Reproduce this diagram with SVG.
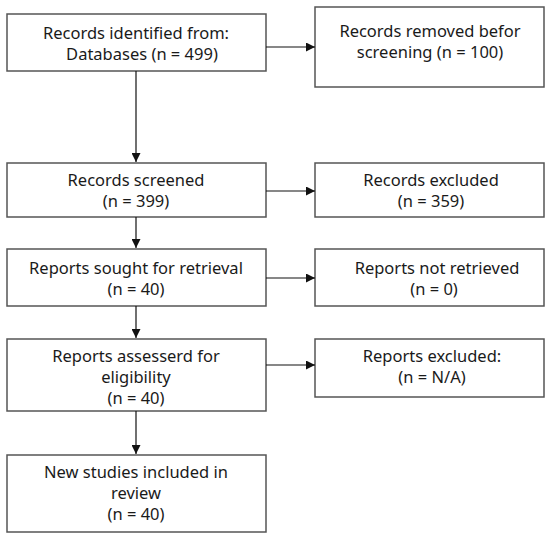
<svg xmlns="http://www.w3.org/2000/svg" width="550" height="540" viewBox="0 0 550 540">
<style>
.box{fill:#fff;stroke:#555;stroke-width:1.5}
.t{font-family:"Noto Sans","Liberation Sans",Arial,sans-serif;font-size:16.5px;fill:#1a1a1a;text-anchor:middle}
.c{stroke:#111;stroke-width:1.2;fill:none;marker-end:url(#ah)}
</style>
<defs>
<marker id="ah" viewBox="0 0 10 10" refX="10" refY="5" markerWidth="9" markerHeight="9" markerUnits="userSpaceOnUse" orient="auto">
<path d="M0,0 L10,5 L0,10 z" fill="#111"/>
</marker>
</defs>
<rect width="550" height="540" fill="#fff"/>
<g id="n1"><rect class="box" x="7" y="14" width="259" height="57"/>
<text class="t" x="136" y="39">Records identified from:</text>
<text class="t" x="142" y="60">Databases (n = 499)</text></g>
<g id="n2"><rect class="box" x="315" y="7" width="229" height="80"/>
<text class="t" x="430" y="37">Records removed befor</text>
<text class="t" x="430" y="58">screening (n = 100)</text></g>
<g id="n3"><rect class="box" x="7" y="163" width="259" height="54"/>
<text class="t" x="136" y="186">Records screened</text>
<text class="t" x="136" y="207">(n = 399)</text></g>
<g id="n4"><rect class="box" x="315" y="163" width="229" height="54"/>
<text class="t" x="431" y="186">Records excluded</text>
<text class="t" x="431" y="207">(n = 359)</text></g>
<g id="n5"><rect class="box" x="7" y="249" width="259" height="57"/>
<text class="t" x="136" y="274">Reports sought for retrieval</text>
<text class="t" x="136" y="295">(n = 40)</text></g>
<g id="n6"><rect class="box" x="315" y="249" width="229" height="57"/>
<text class="t" x="437" y="274">Reports not retrieved</text>
<text class="t" x="434" y="295">(n = 0)</text></g>
<g id="n7"><rect class="box" x="7" y="339" width="259" height="72"/>
<text class="t" x="136" y="362">Reports assesserd for</text>
<text class="t" x="136" y="383">eligibility</text>
<text class="t" x="136" y="404">(n = 40)</text></g>
<g id="n8"><rect class="box" x="315" y="339" width="229" height="58"/>
<text class="t" x="432" y="362">Reports excluded:</text>
<text class="t" x="432" y="383">(n = N/A)</text></g>
<g id="n9"><rect class="box" x="7" y="455" width="259" height="77"/>
<text class="t" x="136" y="478">New studies included in</text>
<text class="t" x="136" y="499">review</text>
<text class="t" x="136" y="520">(n = 40)</text></g>
<g id="connectors">
<line class="c" x1="266" y1="47" x2="315" y2="47"/>
<line class="c" x1="136" y1="71" x2="136" y2="162"/>
<line class="c" x1="266" y1="191" x2="315" y2="191"/>
<line class="c" x1="136" y1="217" x2="136" y2="248"/>
<line class="c" x1="266" y1="278" x2="315" y2="278"/>
<line class="c" x1="136" y1="306" x2="136" y2="338"/>
<line class="c" x1="266" y1="365" x2="315" y2="365"/>
<line class="c" x1="136" y1="411" x2="136" y2="454"/>
</g>
</svg>
